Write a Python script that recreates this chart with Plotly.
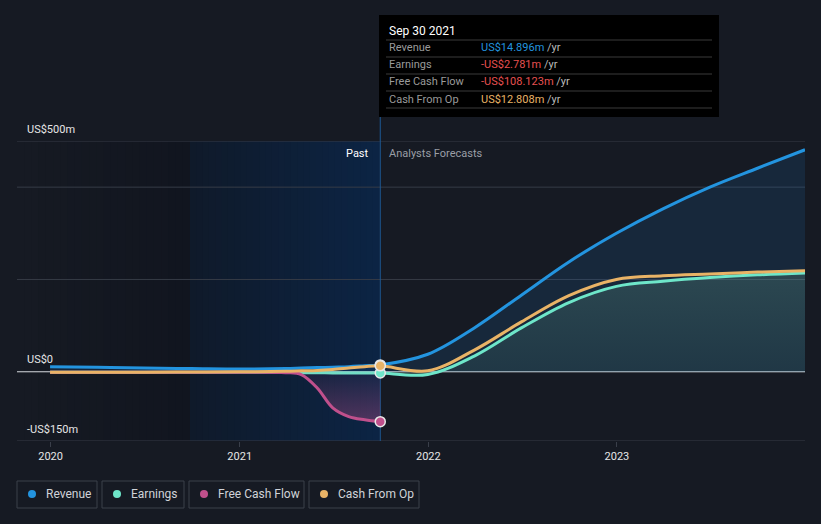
import plotly.graph_objects as go

# ---------------- data ----------------
past_dates = ['2019-12-31', '2020-03-31', '2020-06-30', '2020-09-30', '2020-12-31',
              '2021-03-31', '2021-04-30', '2021-05-31', '2021-06-30', '2021-07-31',
              '2021-08-31', '2021-09-30']
fc_dates = ['2021-12-31', '2022-03-31', '2022-06-30', '2022-09-30', '2022-12-31',
            '2023-03-31', '2023-06-30', '2023-09-30', '2023-12-31']

revenue_past = [11, 10, 8, 7, 6, 7, 8, 9, 10, 11, 13, 14.896]
revenue_fc = [38, 95, 166, 238, 300, 353, 400, 441, 481]

earnings_past = [-1, -1, -1, -1, -1, -1.5, -2, -2, -2.5, -2.5, -2.7, -2.781]
earnings_fc = [-6, 34, 95, 150, 185, 196, 204, 210, 214]

fcf_past = [-1, -1, -1, -1, -1, -2, -6, -35, -78, -97, -104, -108.123]

cfo_past = [-1, -1, -1, -0.5, 0, 1, 2, 3, 5, 8, 11, 12.808]
cfo_fc = [2, 47, 108, 165, 200, 208, 212, 216, 219]

y_ticks = [500, 0, -150]
y_tick_labels = ['US$500m', 'US$0', '-US$150m']
grid_vals = [500, 400, 200, -150]
x_ticks = ['2020-01-01', '2021-01-01', '2022-01-01', '2023-01-01']
x_tick_labels = ['2020', '2021', '2022', '2023']

names = ['Revenue', 'Earnings', 'Free Cash Flow', 'Cash From Op']
colors = ['#2394df', '#6ee6c9', '#c0508c', '#e9b366']

tooltip_date = 'Sep 30 2021'
tooltip_vals = ['US$14.896m', '-US$2.781m', '-US$108.123m', 'US$12.808m']
tooltip_cols = ['#2394df', '#e65050', '#e65050', '#e9b366']

# ---------------- layout helpers ----------------
W, H = 821, 524
L, R, T, B = 17, 805, 141, 441
BG = '#161a23'


def px(x):
    return (x - L) / (R - L)


def py(y):
    return (B - y) / (B - T)


def mix(c0, c1, t):
    return 'rgb(%d,%d,%d)' % tuple(round(a + (b - a) * t) for a, b in zip(c0, c1))


all_dates = past_dates + fc_dates
rev = revenue_past + revenue_fc
ear = earnings_past + earnings_fc
cfo = cfo_past + cfo_fc

fig = go.Figure()

fig.add_trace(go.Scatter(x=all_dates, y=rev, mode='lines', line=dict(color=colors[0], width=3, shape='spline', smoothing=1),
                         fill='tozeroy', fillcolor='rgba(35,120,200,0.15)', hoverinfo='skip'))
fig.add_trace(go.Scatter(x=all_dates, y=ear, mode='lines', line=dict(color=colors[1], width=3, shape='spline', smoothing=1),
                         fill='tozeroy',
                         fillgradient=dict(type='vertical',
                                           colorscale=[[0, 'rgba(110,190,160,0.10)'], [1, 'rgba(130,200,170,0.20)']]),
                         hoverinfo='skip'))
fig.add_trace(go.Scatter(x=past_dates, y=fcf_past, mode='lines', line=dict(color=colors[2], width=3, shape='spline', smoothing=1),
                         fill='tozeroy',
                         fillgradient=dict(type='vertical',
                                           colorscale=[[0, 'rgba(192,80,140,0.38)'], [1, 'rgba(192,80,140,0.05)']]),
                         hoverinfo='skip'))
fig.add_trace(go.Scatter(x=all_dates, y=cfo, mode='lines', line=dict(color=colors[3], width=3, shape='spline', smoothing=1),
                         hoverinfo='skip'))

# end markers
last = past_dates[-1]
for val, col in [(revenue_past[-1], colors[0]), (fcf_past[-1], colors[2]),
                 (earnings_past[-1], colors[1]), (cfo_past[-1], colors[3])]:
    fig.add_trace(go.Scatter(x=[last], y=[val], mode='markers',
                             marker=dict(color=col, size=10, line=dict(color='#e8e8e8', width=1.5)),
                             hoverinfo='skip'))

shapes = []
# darker left area with gradient
n = 24
for i in range(n):
    x0 = L + (190 - L) * i / n
    x1 = L + (190 - L) * (i + 1) / n
    shapes.append(dict(type='rect', xref='paper', yref='paper', x0=px(x0), x1=px(x1) + 0.0008, y0=0, y1=1,
                       fillcolor=mix((22, 26, 35), (17, 21, 31), i / (n - 1)), line=dict(width=0), layer='below'))
# highlighted past year
n = 30
for i in range(n):
    x0 = 190 + (379 - 190) * i / n
    x1 = 190 + (379 - 190) * (i + 1) / n
    shapes.append(dict(type='rect', xref='paper', yref='paper', x0=px(x0), x1=px(x1) + 0.0008, y0=0, y1=1,
                       fillcolor=mix((15, 26, 42), (12, 36, 68), i / (n - 1)), line=dict(width=0), layer='below'))
# grid lines
for g in grid_vals:
    shapes.append(dict(type='line', xref='paper', yref='y', x0=0, x1=1, y0=g, y1=g,
                       line=dict(color='#363b46', width=1), layer='below'))
shapes.append(dict(type='line', xref='paper', yref='y', x0=0, x1=1, y0=0, y1=0,
                   line=dict(color='#d8dbe0', width=1), layer='below'))
# vertical today line
shapes.append(dict(type='line', xref='x', yref='paper', x0=last, x1=last, y0=0, y1=py(117),
                   line=dict(color='#1d5a96', width=1), layer='below'))
# tooltip box
shapes.append(dict(type='rect', xref='paper', yref='paper', x0=px(379), x1=px(719), y0=py(117), y1=py(15),
                   fillcolor='#000000', line=dict(width=0), layer='above'))
for yy in [40, 57, 74, 91, 108]:
    shapes.append(dict(type='line', xref='paper', yref='paper', x0=px(386), x1=px(712), y0=py(yy), y1=py(yy),
                       line=dict(color='#3a3a3a', width=1), layer='above'))

annotations = []
# y tick labels
for v, lab in zip(y_ticks, y_tick_labels):
    annotations.append(dict(xref='paper', yref='y', x=px(25), y=v, yshift=12, text=lab, showarrow=False,
                            xanchor='left', yanchor='middle', font=dict(color='#e6e6e6', size=11)))
annotations.append(dict(xref='paper', yref='paper', x=px(371), y=py(153), text='Past', showarrow=False,
                        xanchor='right', yanchor='middle', font=dict(color='#ffffff', size=11)))
annotations.append(dict(xref='paper', yref='paper', x=px(387), y=py(153), text='Analysts Forecasts', showarrow=False,
                        xanchor='left', yanchor='middle', font=dict(color='#9a9ea6', size=11)))
# tooltip text
annotations.append(dict(xref='paper', yref='paper', x=px(387), y=py(31), text=tooltip_date, showarrow=False,
                        xanchor='left', yanchor='middle', font=dict(color='#ffffff', size=12)))
for i, (nm, val, col) in enumerate(zip(names, tooltip_vals, tooltip_cols)):
    yy = 48 + 17 * i
    annotations.append(dict(xref='paper', yref='paper', x=px(387), y=py(yy), text=nm, showarrow=False,
                            xanchor='left', yanchor='middle', font=dict(color='#9a9a9a', size=11)))
    annotations.append(dict(xref='paper', yref='paper', x=px(479), y=py(yy),
                            text=f"<span style='color:{col}'>{val}</span> /yr", showarrow=False,
                            xanchor='left', yanchor='middle', font=dict(color='#bbbbbb', size=11)))
# legend
boxes = [(17, 97), (102, 184), (189, 304), (309, 419)]
for (x0, x1), nm, col in zip(boxes, names, colors):
    shapes.append(dict(type='rect', xref='paper', yref='paper', x0=px(x0), x1=px(x1), y0=py(508), y1=py(481),
                       line=dict(color='#3b404b', width=1), fillcolor='rgba(0,0,0,0)', layer='above'))
    shapes.append(dict(type='circle', xref='paper', yref='paper', x0=px(x0 + 11), x1=px(x0 + 19),
                       y0=py(498), y1=py(490), fillcolor=col, line=dict(width=0), layer='above'))
    annotations.append(dict(xref='paper', yref='paper', x=px(x0 + 27), y=py(494.5), text=nm, showarrow=False,
                            xanchor='left', yanchor='middle', font=dict(color='#d0d3d8', size=12)))

fig.update_layout(
    width=W, height=H,
    margin=dict(l=L, r=W - R, t=T, b=H - B),
    paper_bgcolor=BG, plot_bgcolor=BG,
    showlegend=False,
    font=dict(family='Roboto, sans-serif', color='#d0d3d8'),
    shapes=shapes, annotations=annotations,
    xaxis=dict(type='date', range=['2019-10-28', '2023-12-31'], showgrid=False, zeroline=False,
               tickvals=x_ticks, ticktext=x_tick_labels, ticks='outside', ticklen=5, tickcolor='#3a3f4a',
               tickfont=dict(color='#e6e6e6', size=11), showline=False, fixedrange=True),
    yaxis=dict(range=[-150, 500], showgrid=False, zeroline=False, showticklabels=False, fixedrange=True),
)

fig.write_html('out.html')
